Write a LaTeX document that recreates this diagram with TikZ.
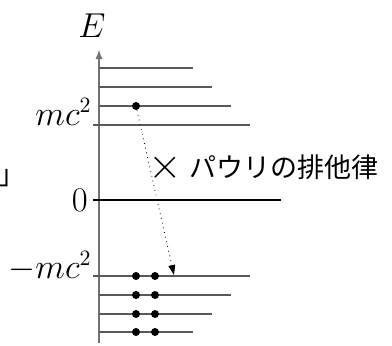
\documentclass[tikz,border=0pt]{standalone}
\usepackage{graphicx}
\usepackage{fontspec}
\newfontfamily\cjk{Noto Sans CJK JP}
\usetikzlibrary{arrows.meta}

\begin{document}
\begin{tikzpicture}[x=0.5pt, y=0.5pt,
    lvl/.style={draw=black!65, line width=0.8pt},
    elec/.style={circle, fill=black, inner sep=0pt, minimum size=4pt},
    big/.style={font=\fontsize{16}{18}\selectfont},
    elabel/.style={big, anchor=base east, inner sep=0pt},
    hop/.style={dotted, -{Triangle[length=5pt, width=3.4pt]}},
    jp/.style={font=\cjk\fontsize{13.5}{16}\selectfont, inner sep=0pt}]
\useasboundingbox (0,0) rectangle (392,345);
% energy axis
\coordinate (ybot) at (99,2);
\coordinate (ytop) at (99,296);
\draw[draw=black!55, line width=1.1pt, -{Latex[length=5pt, width=3.6pt]}] (ybot) -- (ytop);
\node[big, anchor=base] (elab) at (92,308) {$E$};
% levels
\foreach \yy/\xx in {277/193, 258/212, 239/231, 50/231, 31/212, 13/193}
  \draw[lvl] (99,\yy) -- (\xx,\yy);
\draw[lvl] (93,220) -- (250,220);
\draw[lvl] (93,69) -- (250,69);
\draw[line width=0.8pt] (93,145) -- (281,145);
\node[elabel] (pos) at (92,220) {$mc^2$};
\node[elabel] (neg) at (92,67) {$-mc^2$};
\node[big, anchor=east, inner sep=0pt] (zero) at (88,145) {$0$};
% electrons
\node[elec] (up) at (136,239) {};
\foreach \yy [count=\i] in {69,50,31,13} {
  \node[elec] (a\i) at (136,\yy) {};
  \node[elec] (b\i) at (155,\yy) {};
}
\coordinate (hole) at (174,70);
\draw[hop] (up) -- (hole);
\node[jp, anchor=west] (pauli) at (148,177)
  {\raisebox{-0.1ex}{\scalebox{1.5}{$\times$}}\hspace{4pt}パウリの排他律};
\node[jp, anchor=base west] (brk) at (-2,161) {」};
\end{tikzpicture}
\end{document}
